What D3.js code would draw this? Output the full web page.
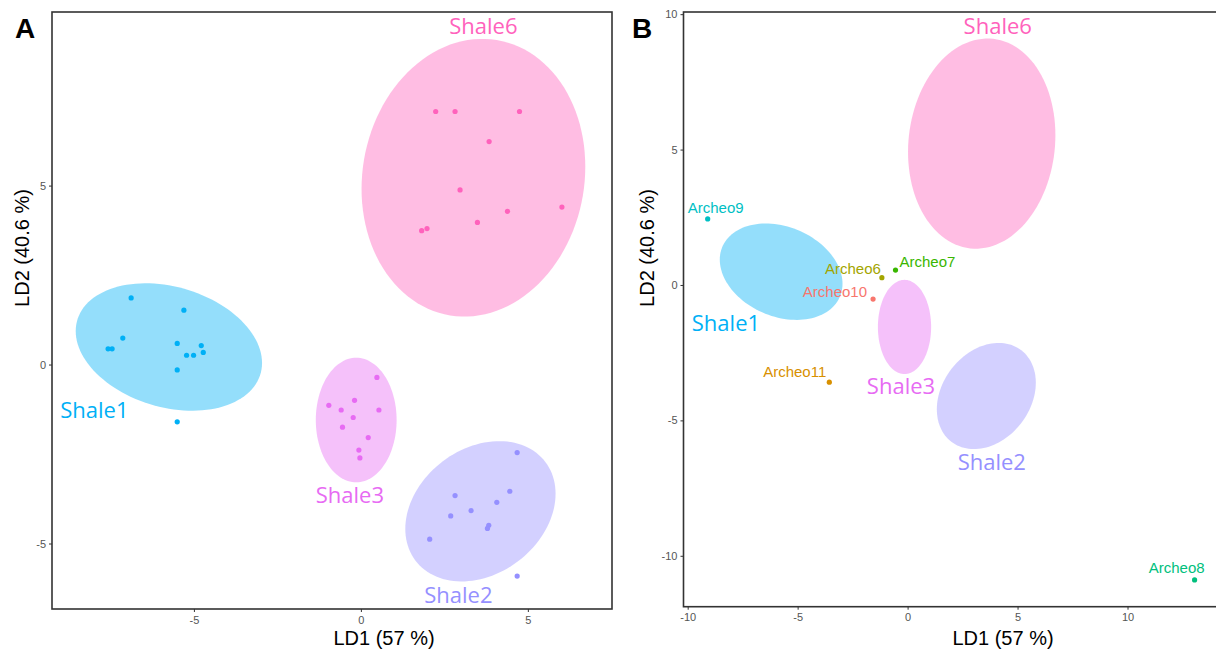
<!doctype html>
<html lang="en">
<head>
<meta charset="utf-8">
<title>LDA shale groups</title>
<script src="https://d3js.org/d3.v7.min.js"></script>
<style>
  body { margin:0; background:#fff; }
  .tick text { font-family:"Liberation Sans", Arial, sans-serif; font-size:11px; fill:#555; }
  .tick line { stroke:#333; }
  .axtitle { font-family:"Liberation Sans", Arial, sans-serif; font-size:20px; fill:#000; }
  .panel { font-family:"Liberation Sans", Arial, sans-serif; font-size:28px; font-weight:bold; fill:#000; }
  .shale { font-family:"Open Sans", sans-serif; font-size:22px; }
  .archeo { font-family:"Liberation Sans", Arial, sans-serif; font-size:15px; }
</style>
</head>
<body>
<script>

// group names and colours (ggplot hue palette order)
var groups  = ["Shale1","Shale2","Shale3","Shale6"];
var colours = {Archeo10:"#F8766D", Archeo11:"#D89000", Archeo6:"#A3A500", Archeo7:"#39B600",
               Archeo8:"#00BF7D", Archeo9:"#00BFC4", Shale1:"#00B0F6", Shale2:"#9590FF",
               Shale3:"#E76BF3", Shale6:"#FF62BC"};

// reference samples, LD1 / LD2
var shale1LD1 = [-6.88,-5.30,-7.13,-7.57,-7.45,-5.50,-5.22,-5.01,-4.78,-4.72,-5.50,-5.50];
var shale1LD2 = [ 1.86, 1.52, 0.74, 0.44, 0.44, 0.59, 0.26, 0.26, 0.53, 0.34,-0.15,-1.60];
var shale2LD1 = [ 4.68, 4.46, 2.82, 4.07, 3.30, 2.69, 3.83, 3.79, 2.06, 4.68];
var shale2LD2 = [-2.46,-3.54,-3.66,-3.85,-4.08,-4.23,-4.49,-4.58,-4.88,-5.91];
var shale3LD1 = [ 0.48,-0.96,-0.59,-0.19, 0.54,-0.23,-0.55, 0.22,-0.06,-0.03];
var shale3LD2 = [-0.36,-1.14,-1.27,-1.00,-1.27,-1.48,-1.75,-2.04,-2.39,-2.61];
var shale6LD1 = [ 2.24, 2.82, 4.75, 3.84, 2.97, 6.02, 4.39, 3.49, 1.98, 1.82];
var shale6LD2 = [ 7.07, 7.07, 7.07, 6.23, 4.88, 4.40, 4.28, 3.97, 3.80, 3.74];

// 95% ellipses: centre, half extents, correlation
var ellCX = [-5.75, 3.58,-0.14, 3.37];
var ellCY = [ 0.49,-4.10,-1.55, 5.22];
var ellHX = [ 2.79, 2.25, 1.21, 3.35];
var ellHY = [ 1.78, 1.96, 1.74, 3.88];
var ellR  = [-0.25, 0.25, 0.00, 0.08];

// archaeological samples projected (panel B)
var archeoNames = ["Archeo9","Archeo6","Archeo7","Archeo10","Archeo11","Archeo8"];
var archeoLD1   = [-9.09,-1.17,-0.55,-1.57,-3.56,13.05];
var archeoLD2   = [ 2.44, 0.27, 0.55,-0.52,-3.59,-10.89];

// group label positions (data units) per panel
var labelA_LD1 = [-7.98, 2.92,-0.33, 3.67];
var labelA_LD2 = [-1.27,-6.45,-3.66, 9.45];
var labelB_LD1 = [-8.26, 3.83,-0.30, 4.10];
var labelB_LD2 = [-1.39,-6.54,-3.73, 9.56];

var ticksA = [-5, 0, 5];
var ticksB = [-10, -5, 0, 5, 10];

var W = 1216, H = 652;
var svg = d3.select("body").append("svg").attr("width", W).attr("height", H);

var shaleLD1 = [shale1LD1, shale2LD1, shale3LD1, shale6LD1];
var shaleLD2 = [shale1LD2, shale2LD2, shale3LD2, shale6LD2];

function ellipsePts(i) {
  var pts = [], r = ellR[i], s = Math.sqrt(1 - r*r);
  for (var k = 0; k < 120; k++) {
    var t = 2*Math.PI*k/120;
    pts.push([ellCX[i] + ellHX[i]*Math.cos(t),
              ellCY[i] + ellHY[i]*(r*Math.cos(t) + s*Math.sin(t))]);
  }
  return pts;
}

function drawPanel(opt) {
  var x = d3.scaleLinear().domain(opt.xdom).range([opt.left, opt.right]);
  var y = d3.scaleLinear().domain(opt.ydom).range([opt.bottom, opt.top]);
  var g = svg.append("g");

  var line = d3.line().x(d => x(d[0])).y(d => y(d[1])).curve(d3.curveLinearClosed);

  groups.forEach(function(name, i) {
    g.append("path")
      .attr("d", line(ellipsePts(i)))
      .style("fill", colours[name])
      .style("fill-opacity", 0.42)
      .style("stroke", "none");
  });

  if (opt.points) {
    groups.forEach(function(name, i) {
      g.selectAll(".pt" + i)
        .data(d3.range(shaleLD1[i].length))
        .enter().append("circle")
        .attr("cx", k => x(shaleLD1[i][k]))
        .attr("cy", k => y(shaleLD2[i][k]))
        .attr("r", 2.6)
        .style("fill", colours[name]);
    });
  }

  groups.forEach(function(name, i) {
    g.append("text")
      .attr("class", "shale")
      .attr("x", x(opt.labLD1[i]))
      .attr("y", y(opt.labLD2[i]))
      .attr("dy", "0.36em")
      .attr("text-anchor", "middle")
      .style("fill", colours[name])
      .text(name);
  });

  if (opt.archeo) {
    // label placement relative to the point
    var lab = {Archeo9:["middle",8,-6], Archeo6:["end",-1,-4], Archeo7:["start",4,-3],
               Archeo10:["end",-6,-2], Archeo11:["end",-3,-5], Archeo8:["end",10,-7]};
    archeoNames.forEach(function(name, k) {
      var px = x(archeoLD1[k]), py = y(archeoLD2[k]);
      g.append("circle").attr("cx", px).attr("cy", py).attr("r", 2.6)
        .style("fill", colours[name]);
      g.append("text").attr("class", "archeo")
        .attr("x", px + lab[name][1]).attr("y", py + lab[name][2])
        .attr("text-anchor", lab[name][0])
        .style("fill", colours[name])
        .text(name);
    });
  }

  // frame
  g.append("rect")
    .attr("x", opt.left).attr("y", opt.top)
    .attr("width", opt.right - opt.left).attr("height", opt.bottom - opt.top)
    .style("fill", "none").style("stroke", "#333").style("stroke-width", 1.6);

  g.append("g")
    .attr("transform", "translate(0," + opt.bottom + ")")
    .call(d3.axisBottom(x).tickValues(opt.xticks).tickSize(3).tickPadding(4)
      .tickFormat(d => String(d)))
    .call(a => a.select(".domain").remove());

  g.append("g")
    .attr("transform", "translate(" + opt.left + ",0)")
    .call(d3.axisLeft(y).tickValues(opt.yticks).tickSize(3).tickPadding(3)
      .tickFormat(d => String(d)))
    .call(a => a.select(".domain").remove());

  g.append("text").attr("class", "axtitle")
    .attr("x", opt.xtitleX).attr("y", 645)
    .attr("text-anchor", "middle").text("LD1 (57 %)");

  g.append("text").attr("class", "axtitle")
    .attr("transform", "translate(" + opt.ytitleX + ",248) rotate(-90)")
    .attr("text-anchor", "middle").text("LD2 (40.6 %)");

  g.append("text").attr("class", "panel")
    .attr("x", opt.letterX).attr("y", 38).text(opt.letter);
}

drawPanel({
  letter:"A", letterX:15,
  left:52, right:612, top:12, bottom:609,
  xdom:[-9.25, 7.52], ydom:[-6.83, 9.85],
  xticks:ticksA, yticks:ticksA,
  labLD1:labelA_LD1, labLD2:labelA_LD2,
  points:true, archeo:false,
  xtitleX:384, ytitleX:29
});

drawPanel({
  letter:"B", letterX:632,
  left:683.5, right:1230, top:12, bottom:606.7,
  xdom:[-10.19, 14.66], ydom:[-11.88, 10.08],
  xticks:ticksB, yticks:ticksB,
  labLD1:labelB_LD1, labLD2:labelB_LD2,
  points:false, archeo:true,
  xtitleX:1003, ytitleX:654
});

</script>
</body>
</html>
